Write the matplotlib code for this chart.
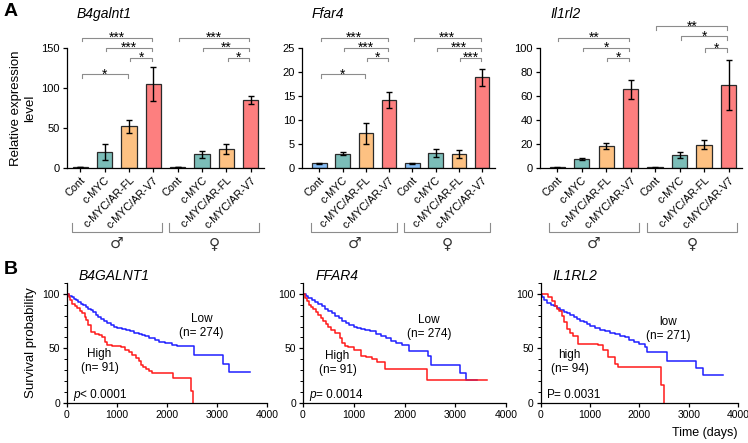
import matplotlib.pyplot as plt
from matplotlib.ticker import MultipleLocator

plt.rcParams['font.family'] = ['Liberation Sans', 'DejaVu Sans']

W, H = 748, 443

groups = ["Cont", "c-MYC", "c-MYC/AR-FL", "c-MYC/AR-V7"]
bar_colors = ["#86bdf5", "#7bbdb8", "#fdc182", "#fd7f7f"]

# panel A: relative expression (male 4 bars, female 4 bars)
b4galnt1_mean = [1, 20, 52, 105, 1, 17, 24, 85]
b4galnt1_err = [0.3, 10, 8, 21, 0.3, 4, 6, 5]
ffar4_mean = [1, 3, 7.2, 14.2, 1, 3.1, 2.9, 18.9]
ffar4_err = [0.1, 0.3, 2.1, 1.7, 0.1, 0.8, 0.8, 1.8]
il1rl2_mean = [0.5, 7.5, 18, 65.5, 0.5, 10.5, 19.5, 69]
il1rl2_err = [0.2, 1, 2.5, 8, 0.2, 2.5, 4, 21]

# significance brackets: (i, j, label, height in axes fraction)
b4galnt1_sig = [(0, 3, "***", 1.086), (1, 3, "***", 1.003), (2, 3, "*", 0.92), (0, 2, "*", 0.783),
                (4, 7, "***", 1.086), (5, 7, "**", 1.003), (6, 7, "*", 0.92)]
ffar4_sig = [(0, 3, "***", 1.086), (1, 3, "***", 1.003), (2, 3, "*", 0.92), (0, 2, "*", 0.783),
             (4, 7, "***", 1.086), (5, 7, "***", 1.003), (6, 7, "***", 0.92)]
il1rl2_sig = [(0, 3, "**", 1.086), (1, 3, "*", 1.003), (2, 3, "*", 0.92),
              (4, 7, "**", 1.18), (5, 7, "*", 1.096), (6, 7, "*", 1.0)]

# panel B: Kaplan-Meier steps (time in days, survival %)
b4_low_t = [0, 40, 90, 130, 170, 220, 270, 320, 370, 420, 470, 520, 570, 620, 680, 740, 800, 870, 940,
            1000, 1100, 1180, 1250, 1330, 1430, 1500, 1560, 1640, 1760, 1830, 1950, 2100, 2200, 2530,
            3110, 3230, 3660]
b4_low_s = [100, 98.5, 97, 95.5, 94, 92.5, 91, 89.5, 88, 86.5, 85, 83, 81, 79, 77, 75, 73, 71, 69.5,
            68.5, 67.5, 66.5, 65.5, 64.5, 63.5, 62.5, 61, 59.5, 57.5, 56, 54.5, 53, 52.5, 43.5,
            35.5, 28.5, 28.5]
b4_high_t = [0, 30, 60, 100, 150, 200, 250, 300, 350, 380, 420, 470, 560, 640, 700, 760, 800, 900, 1070,
             1150, 1230, 1300, 1370, 1430, 1470, 1520, 1570, 1640, 1700, 2120, 2470, 2510]
b4_high_s = [100, 97, 94, 91, 89, 87, 84.5, 82, 79, 76, 71, 65, 63.5, 62, 60, 56, 53, 52, 51,
             48.5, 47, 44, 41, 38, 35, 33, 31, 29, 27, 22.5, 10.5, 0]

ff_low_t = [0, 50, 100, 170, 230, 300, 370, 430, 500, 570, 630, 700, 770, 840, 900, 1000, 1070, 1150,
            1230, 1330, 1430, 1530, 1630, 1730, 1830, 1950, 2090, 2470, 2530, 3090, 3220, 3430]
ff_low_s = [100, 98, 96, 94, 92.5, 90.5, 88.5, 86.5, 84, 82, 80, 78, 75.5, 73.5, 71.5, 70, 69, 68,
            67, 65.5, 63, 61, 59, 57, 55, 53, 47.5, 43, 34.7, 27.6, 21, 21]
ff_high_t = [0, 40, 80, 120, 160, 200, 250, 300, 350, 400, 450, 500, 560, 630, 720, 770, 820, 880, 1000,
             1150, 1250, 1350, 1450, 1620, 2440, 3630]
ff_high_s = [100, 96, 93, 90, 88, 86, 83.5, 81, 78, 75, 72, 69.5, 67, 64, 59, 55, 52.5, 51, 48.5,
             43, 42, 40, 37, 30.7, 21, 21]

il_low_t = [0, 30, 70, 130, 200, 270, 330, 400, 470, 530, 600, 670, 740, 800, 870, 930, 1000, 1100,
            1200, 1300, 1400, 1500, 1600, 1700, 1800, 1900, 2000, 2120, 2150, 2560, 3150, 3290, 3700]
il_low_s = [100, 97, 94, 91.5, 90, 88.5, 87, 85, 83.5, 82.5, 81, 79, 77, 75.5, 74, 72.5, 70.5, 68.5,
            67, 65.5, 64, 63, 61.5, 60, 58, 56, 54, 51, 47, 38.5, 31.5, 25.5, 25.5]
il_high_t = [0, 150, 220, 280, 330, 380, 430, 480, 530, 600, 660, 760, 1165, 1270, 1370, 1500, 1570,
             2445, 2490]
il_high_s = [100, 97, 93, 89, 86, 84, 80, 74, 68, 64, 61, 54, 53, 48.5, 42, 36, 32.5, 16.3, 0]

km_panels = [
    ("B4GALNT1", b4_low_t, b4_low_s, b4_high_t, b4_high_s,
     ("Low", "(n= 274)"), ("High", "(n= 91)"), ("p", "< 0.0001")),
    ("FFAR4", ff_low_t, ff_low_s, ff_high_t, ff_high_s,
     ("Low", "(n= 274)"), ("High", "(n= 91)"), ("p", "= 0.0014")),
    ("IL1RL2", il_low_t, il_low_s, il_high_t, il_high_s,
     ("low", "(n= 271)"), ("high", "(n= 94)"), ("P", "= 0.0031")),
]
km_label_pos = [((2690, 77), (650, 45)), ((2480, 76), (680, 43)), ((2590, 74), (590, 44))]


def px_axes(fig, left, top, right, bottom):
    return fig.add_axes([left / W, 1 - bottom / H, (right - left) / W, (bottom - top) / H])


fig = plt.figure(figsize=(W / 100, H / 100), dpi=100)

bar_data = [
    ("B4galnt1", b4galnt1_mean, b4galnt1_err, b4galnt1_sig, 150, 50, (67, 264, -0.55)),
    ("Ffar4", ffar4_mean, ffar4_err, ffar4_sig, 25, 5, (302, 495, -0.75)),
    ("Il1rl2", il1rl2_mean, il1rl2_err, il1rl2_sig, 100, 20, (540, 742, -0.7)),
]

grey = "#8c8c8c"
for title, mean, err, sig, ymax, ystep, (left, right, x0) in bar_data:
    ax = px_axes(fig, left, 48, right, 168)
    x = list(range(8))
    ax.bar(x, mean, width=0.62, color=bar_colors * 2, edgecolor="#2a2a2a", linewidth=0.9,
           yerr=err, capsize=2.5, error_kw=dict(elinewidth=1, capthick=1, ecolor="black"))
    ax.set_xlim(x0, 7.55)
    ax.set_ylim(0, ymax)
    ax.set_yticks(range(0, ymax + 1, ystep))
    ax.set_xticks(x)
    ax.set_xticklabels(groups * 2, rotation=45, ha="right", va="top", rotation_mode="anchor",
                       fontsize=7.8)
    ax.tick_params(axis="y", labelsize=8, length=3, width=0.9, pad=2)
    ax.tick_params(axis="x", length=3, width=0.9, pad=2)
    for s in ["top", "right"]:
        ax.spines[s].set_visible(False)
    for s in ["left", "bottom"]:
        ax.spines[s].set_linewidth(0.9)
    ax.text(0.05, 1.28, title, transform=ax.transAxes, fontsize=10, style="italic",
            ha="left", va="center")

    tr = ax.get_xaxis_transform()
    for i, j, lab, h in sig:
        xa, xb = i + 0.05, j - 0.05
        ax.plot([xa, xa, xb, xb], [h - 0.03, h, h, h - 0.03], color=grey, lw=0.8,
                transform=tr, clip_on=False)
        ax.text((xa + xb) / 2, h - 0.005, lab, transform=tr, ha="center", va="center",
                fontsize=10)

    for g, sym in [(0, "\u2642"), (4, "\u2640")]:
        xa, xb = g - 0.35, g + 3.35
        ax.plot([xa, xa, xb, xb], [-0.46, -0.53, -0.53, -0.46], color=grey, lw=0.8,
                transform=tr, clip_on=False)
        ax.text(g + 1.5, -0.63, sym, transform=tr, ha="center", va="center", fontsize=11,
                color="#333333", family="DejaVu Sans")

fig.axes[0].set_ylabel("Relative expression\nlevel", fontsize=9.5, labelpad=4)

km_extents = [(67, 267), (303, 506), (540.7, 738)]
for k, (title, lt, ls, ht, hs, low_lab, high_lab, pval) in enumerate(km_panels):
    left, right = km_extents[k]
    ax = px_axes(fig, left, 283, right, 402.7)
    ax.step(lt, ls, where="post", color="#1f1fff", lw=1.1)
    ax.step(ht, hs, where="post", color="#ff1a1a", lw=1.1)
    ax.set_xlim(0, 4000)
    ax.set_ylim(0, 110)
    ax.set_xticks(range(0, 4001, 1000))
    ax.set_yticks([0, 50, 100])
    ax.yaxis.set_minor_locator(MultipleLocator(10))
    ax.tick_params(axis="both", which="major", labelsize=7.5, length=3, width=0.9, pad=2)
    ax.tick_params(axis="y", which="minor", length=2, width=0.7)
    for s in ["top", "right"]:
        ax.spines[s].set_visible(False)
    for s in ["left", "bottom"]:
        ax.spines[s].set_linewidth(0.9)
    ax.text(0.06, 1.06, title, transform=ax.transAxes, fontsize=10, style="italic",
            ha="left", va="center")
    (lx, ly), (hx, hy) = km_label_pos[k]
    ax.text(lx, ly, low_lab[0], ha="center", va="center", fontsize=8.5)
    ax.text(lx, ly - 12.5, low_lab[1], ha="center", va="center", fontsize=8.5)
    ax.text(hx, hy, high_lab[0], ha="center", va="center", fontsize=8.5)
    ax.text(hx, hy - 13, high_lab[1], ha="center", va="center", fontsize=8.5)
    style = "italic" if pval[0] == "p" else "normal"
    t1 = ax.text(120, 7, pval[0], ha="left", va="center", fontsize=8.5, style=style)
    ax.annotate(pval[1], xy=(1, 0.5), xycoords=t1, ha="left", va="center", fontsize=8.5)
    if k == 0:
        ax.set_ylabel("Survival probability", fontsize=9.5, labelpad=4)
    if k == 2:
        ax.set_xlabel("Time (days)", fontsize=9, loc="right", labelpad=5)

fig.text(4 / W, 1 - 12 / H, "A", fontsize=14, fontweight="bold", ha="left", va="center")
fig.text(4 / W, 1 - 270 / H, "B", fontsize=14, fontweight="bold", ha="left", va="center")

fig.savefig("out.png", dpi=100)
